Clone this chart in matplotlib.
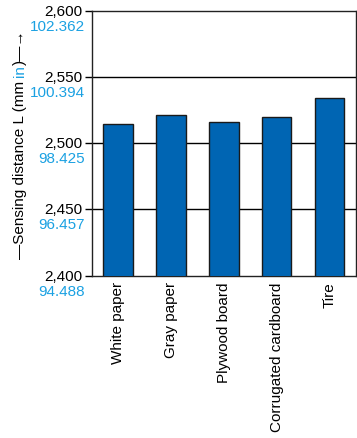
import matplotlib.pyplot as plt
import numpy as np

plt.rcParams['font.family'] = ['Liberation Sans', 'DejaVu Sans']

categories = ['White paper', 'Gray paper', 'Plywood board', 'Corrugated cardboard', 'Tire']
distance_mm = [2514.3, 2521.0, 2515.8, 2519.9, 2533.9]
mm_ticks = [2400, 2450, 2500, 2550, 2600]
mm_labels = ['2,400', '2,450', '2,500', '2,550', '2,600']
in_labels = ['94.488', '96.457', '98.425', '100.394', '102.362']

blue = '#0065b3'
light_blue = '#1ba1e2'

fig = plt.figure(figsize=(3.57, 4.39), dpi=100)
ax = fig.add_axes([0.257, 0.370, 0.740, 0.603])

x = np.arange(len(categories))
ax.bar(x, distance_mm, width=0.56, color=blue, edgecolor='#1a1a1a', linewidth=1, zorder=3)

ax.set_xlim(-0.5, len(categories) - 0.5)
ax.set_ylim(2400, 2600)
ax.set_yticks(mm_ticks)
ax.set_yticklabels(mm_labels, fontsize=11, va='center')
for t in mm_ticks[1:-1]:
    ax.axhline(t, color='black', lw=1, zorder=1)
ax.tick_params(axis='y', direction='out', length=5, width=1, pad=2)
ax.tick_params(axis='x', length=0, pad=4)
ax.set_xticks(x)
ax.set_xticklabels(categories, rotation=90, fontsize=11, va='top')

# inch labels under the mm labels
for t, lab in zip(mm_ticks, in_labels):
    ax.annotate(lab, xy=(0, t), xycoords=('axes fraction', 'data'),
                xytext=(-7, -15), textcoords='offset pixels',
                ha='right', va='center', fontsize=11, color=light_blue)

for s in ax.spines.values():
    s.set_linewidth(1)
    s.set_color('#222222')

# y label with coloured "in"
t1 = fig.text(0.056, 0.41, '\u2014Sensing distance L (mm ', rotation=90,
              ha='center', va='bottom', fontsize=11)
t2 = ax.annotate('in', xy=(0.5, 1), xycoords=t1, ha='center', va='bottom',
                 rotation=90, fontsize=11, color=light_blue, annotation_clip=False)
t3 = ax.annotate(')\u2014\u2192', xy=(0.5, 1), xycoords=t2, ha='center', va='bottom',
                 rotation=90, fontsize=11, annotation_clip=False)

fig.savefig('out.png', dpi=100)
